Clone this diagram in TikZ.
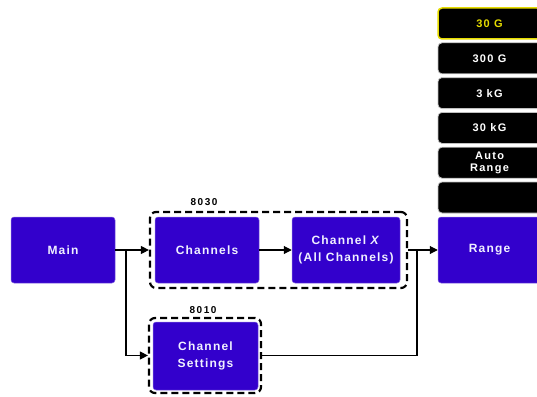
\documentclass[tikz,border=0pt]{standalone}
\usepackage{fontspec}
\setmainfont{Liberation Sans}
\usetikzlibrary{arrows.meta}
\definecolor{boxblue}{RGB}{51,0,204}
\definecolor{txtw}{RGB}{240,240,255}
\definecolor{selyel}{RGB}{230,220,0}
\tikzset{
  bluebox/.style={rectangle, rounded corners=3pt, fill=boxblue, draw=boxblue!60!white, line width=0.5pt,
    text=txtw, font=\fontsize{12}{17}\selectfont\bfseries\addfontfeatures{LetterSpace=10}, align=center, inner sep=0pt},
  grpbox/.style={rectangle, rounded corners=6pt, draw=black, line width=2.2pt, dash pattern=on 7pt off 4pt, inner sep=0pt},
  btn/.style={rectangle, rounded corners=4pt, fill=black, draw=black!25, line width=0.8pt,
    text=white, font=\fontsize{11}{12.5}\selectfont\bfseries\addfontfeatures{LetterSpace=12}, align=center,
    minimum width=103pt, minimum height=31pt, inner sep=0pt},
  grplabel/.style={font=\fontsize{10}{11}\selectfont\bfseries\addfontfeatures{LetterSpace=15}, inner sep=0pt},
  conn/.style={line width=1.1pt, draw=black},
  arr/.style={conn, -{Triangle[length=8pt,width=8pt]}}
}
\begin{document}
\begin{tikzpicture}[x=1pt,y=-1pt]
\useasboundingbox (0,0) rectangle (537,396);
% range buttons
\node[btn, draw=selyel, line width=1.5pt, text=selyel] (b1) at (489.5,23.5) {30 G};
\node[btn] (b2) at (489.5,58.3) {300 G};
\node[btn] (b3) at (489.5,93.1) {3 kG};
\node[btn] (b4) at (489.5,127.9) {30 kG};
\node[btn] (b5) at (489.5,162.7) {Auto\\Range};
\node[btn] (b6) at (489.5,197.5) {};
% groups
\node[grpbox, minimum width=257pt, minimum height=76pt] (g1) at (278.5,250) {};
\node[grpbox, minimum width=112pt, minimum height=75pt] (g2) at (205,355.5) {};
\node[grplabel] (l1) at (204,202.5) {8030};
\node[grplabel] (l2) at (203,310) {8010};
% blue boxes
\node[bluebox, minimum width=104pt, minimum height=66pt] (main) at (63,250) {Main};
\node[bluebox, minimum width=104pt, minimum height=66pt] (ch) at (207,250) {Channels};
\node[bluebox, minimum width=108pt, minimum height=66pt] (chx) at (346,250) {Channel \textit{X}\\(All Channels)};
\node[bluebox, minimum width=105pt, minimum height=68pt] (chs) at (205.5,356) {Channel\\Settings};
\node[bluebox, minimum width=103pt, minimum height=66pt] (range) at (489.5,250) {Range};
% connectors
\coordinate (j1) at (126,250);
\coordinate (j2) at (417,250);
\draw[arr] (main.east) -- (g1.west);
\draw[arr] (j1) |- (g2.west);
\draw[arr] (ch.east) -- (chx.west);
\draw[arr] (g1.east) -- (range.west);
\draw[conn] (j2) |- (g2.east);
\end{tikzpicture}
\end{document}
